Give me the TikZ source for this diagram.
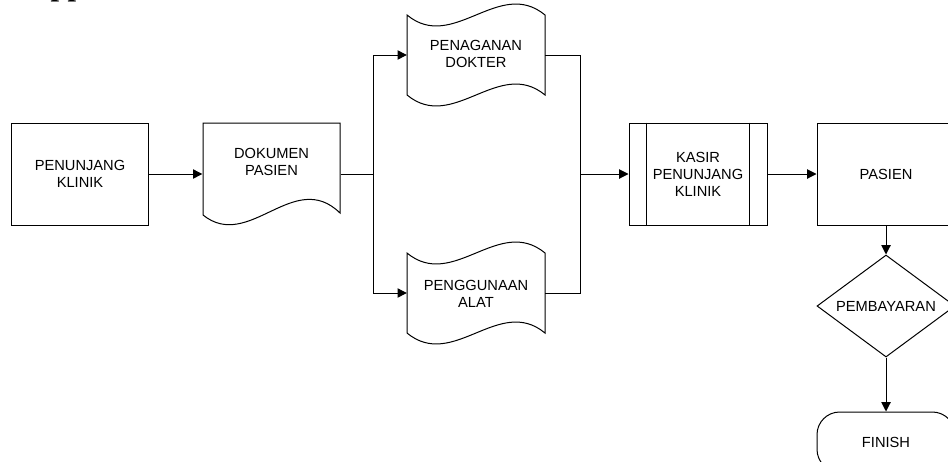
\documentclass[tikz,border=0pt]{standalone}
\usepackage{fontspec}
\setmainfont{Liberation Sans}
\newfontfamily\headfont{Liberation Serif}
\usetikzlibrary{arrows.meta,shapes.geometric,calc}
\begin{document}
\begin{tikzpicture}[x=0.75pt,y=-0.75pt,
  line width=0.75pt,
  lbl/.style={align=center,inner sep=0pt,font=\fontsize{11}{12.75}\selectfont},
  box/.style={draw,rectangle,inner sep=0pt,minimum width=102.75pt,minimum height=76.5pt,lbl},
  ghost/.style={rectangle,inner sep=0pt,minimum width=103pt},
  arr/.style={-{Triangle[length=7pt,width=7pt]}}]
\useasboundingbox (0,0) rectangle (948,461);
\clip (0,0) rectangle (948,461);

% heading remnant along the top edge
\node[anchor=base west,inner sep=0pt,font=\headfont\bfseries\fontsize{23}{23}\selectfont] (head) at (50,-5) {pp};

% process boxes
\node[box] (klinik) at (80,174) {PENUNJANG\\KLINIK};
\node[box,minimum width=103.5pt] (kasir) at (698,174) {KASIR\\PENUNJANG\\KLINIK};
\draw ($(kasir.north west)+(18,0)$) -- ($(kasir.south west)+(18,0)$);
\draw ($(kasir.north east)+(-18,0)$) -- ($(kasir.south east)+(-18,0)$);
\node[box,minimum width=103.5pt] (pasien) at (886,174) {PASIEN};

% document
\node[ghost,minimum height=76.5pt] (doc) at (271.5,174) {};
\draw (203,215) -- (203,123) -- (340,123) -- (340,213)
  .. controls (294,168) and (249,252) .. (203,215);
\node[lbl] (doctext) at (271.5,162) {DOKUMEN\\PASIEN};

% punched tapes
\node[ghost,minimum height=60pt] (dokter) at (476,55) {};
\draw (407,15) .. controls (453,53) and (499,-23) .. (545,15) -- (545,95)
  .. controls (499,57) and (453,133) .. (407,95) -- cycle;
\node[lbl] (doktertext) at (476,54) {PENAGANAN\\DOKTER};

\node[ghost,minimum height=60pt] (alat) at (476,293) {};
\draw (407,253) .. controls (453,291) and (499,215) .. (545,253) -- (545,333)
  .. controls (499,295) and (453,371) .. (407,333) -- cycle;
\node[lbl] (alattext) at (476,294) {PENGGUNAAN\\ALAT};

% decision and terminator
\node[draw,diamond,aspect=1.35,inner sep=0pt,minimum width=103.5pt,minimum height=76.5pt,lbl] (bayar) at (886,306) {PEMBAYARAN};
\node[draw,rectangle,rounded corners=17pt,inner sep=0pt,minimum width=103.5pt,minimum height=45pt,lbl] (finish) at (886,442) {FINISH};

% junction points
\coordinate (split) at (373,174);
\coordinate (join) at (580,174);

% connectors
\draw[arr] (klinik.east) -- (doc.west);
\draw (doc.east) -- (split);
\draw[arr] (split) |- (dokter.west);
\draw[arr] (split) |- (alat.west);
\draw (dokter.east) -| (join);
\draw (alat.east) -| (join);
\draw[arr] (join) -- (kasir.west);
\draw[arr] (kasir.east) -- (pasien.west);
\draw[arr] (pasien.south) -- (bayar.north);
\draw[arr] (bayar.south) -- (finish.north);
\end{tikzpicture}
\end{document}
